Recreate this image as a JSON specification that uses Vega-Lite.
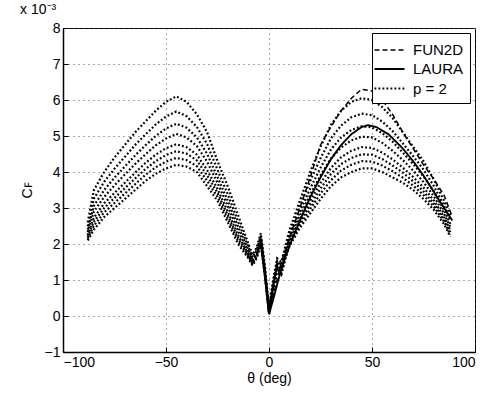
{
  "$schema": "https://vega.github.io/schema/vega-lite/v6.json",
  "width": 412,
  "height": 324,
  "autosize": "none",
  "padding": {"left": 63, "top": 28, "right": 15, "bottom": 42},
  "background": "white",
  "config": {
    "font": "Liberation Sans",
    "view": {"stroke": "black", "strokeWidth": 1},
    "axis": {
      "grid": true,
      "gridDash": [1, 4],
      "gridColor": "#555",
      "gridOpacity": 1,
      "domainColor": "black",
      "domainWidth": 1.5,
      "tickColor": "black",
      "tickSize": -5,
      "labelColor": "black",
      "labelFontSize": 14,
      "labelOverlap": false,
      "labelBound": false,
      "titleFontSize": 14,
      "titleFontWeight": "normal",
      "titleColor": "black"
    },
    "legend": {
      "orient": "top-right",
      "offset": 5,
      "strokeColor": "black",
      "fillColor": "white",
      "padding": 6,
      "labelFontSize": 15,
      "labelColor": "black",
      "labelOffset": 12,
      "symbolType": "M-1.5,0L1.5,0",
      "symbolSize": 400,
      "symbolStrokeColor": "black",
      "rowPadding": 0
    }
  },
  "title": {"text": "x 10⁻³", "anchor": "start", "fontSize": 14, "fontWeight": "normal", "offset": 4, "color": "black"},
  "encoding": {
    "x": {
      "field": "theta", "type": "quantitative",
      "scale": {"domain": [-100, 100], "nice": false},
      "axis": {"values": [-100, -50, 0, 50, 100], "title": "θ (deg)", "labelPadding": 8, "titlePadding": 2}
    },
    "y": {
      "field": "cf", "type": "quantitative",
      "scale": {"domain": [-1, 8], "nice": false},
      "axis": {"values": [-1, 0, 1, 2, 3, 4, 5, 6, 7, 8], "tickCount": 10, "title": "Cꜰ", "labelPadding": 8, "titlePadding": 10}
    },
    "strokeDash": {
      "field": "method", "type": "nominal",
      "scale": {"domain": ["FUN2D", "LAURA", "p = 2"], "range": [[5, 3], [1, 0], [1.8, 2.2]]},
      "legend": {"title": null}
    },
    "strokeWidth": {
      "field": "method", "type": "nominal",
      "scale": {"domain": ["FUN2D", "LAURA", "p = 2"], "range": [1.5, 2.2, 2.2]},
      "legend": {"title": null}
    }
  },
  "layer": [
    {
      "data": {"values": [
        {"theta": -88, "method": "p = 2", "c1": 2.10, "c2": 2.15, "c3": 2.20, "c4": 2.25, "c5": 2.33, "c6": 2.40, "c7": 2.49, "c8": 2.60},
        {"theta": -85, "method": "p = 2", "c1": 2.40, "c2": 2.51, "c3": 2.62, "c4": 2.73, "c5": 2.90, "c6": 3.06, "c7": 3.26, "c8": 3.50},
        {"theta": -80, "method": "p = 2", "c1": 2.75, "c2": 2.88, "c3": 3.00, "c4": 3.13, "c5": 3.31, "c6": 3.50, "c7": 3.73, "c8": 4.00},
        {"theta": -75, "method": "p = 2", "c1": 3.00, "c2": 3.14, "c3": 3.28, "c4": 3.42, "c5": 3.63, "c6": 3.84, "c7": 4.09, "c8": 4.40},
        {"theta": -70, "method": "p = 2", "c1": 3.25, "c2": 3.40, "c3": 3.55, "c4": 3.70, "c5": 3.93, "c6": 4.15, "c7": 4.42, "c8": 4.75},
        {"theta": -65, "method": "p = 2", "c1": 3.50, "c2": 3.66, "c3": 3.82, "c4": 3.98, "c5": 4.22, "c6": 4.46, "c7": 4.75, "c8": 5.10},
        {"theta": -60, "method": "p = 2", "c1": 3.75, "c2": 3.92, "c3": 4.08, "c4": 4.25, "c5": 4.49, "c6": 4.74, "c7": 5.04, "c8": 5.40},
        {"theta": -55, "method": "p = 2", "c1": 3.95, "c2": 4.13, "c3": 4.30, "c4": 4.48, "c5": 4.74, "c6": 5.00, "c7": 5.32, "c8": 5.70},
        {"theta": -50, "method": "p = 2", "c1": 4.10, "c2": 4.29, "c3": 4.47, "c4": 4.66, "c5": 4.93, "c6": 5.21, "c7": 5.54, "c8": 5.95},
        {"theta": -45, "method": "p = 2", "c1": 4.20, "c2": 4.39, "c3": 4.58, "c4": 4.77, "c5": 5.06, "c6": 5.34, "c7": 5.68, "c8": 6.10},
        {"theta": -40, "method": "p = 2", "c1": 4.15, "c2": 4.33, "c3": 4.51, "c4": 4.69, "c5": 4.96, "c6": 5.23, "c7": 5.55, "c8": 5.95},
        {"theta": -35, "method": "p = 2", "c1": 4.00, "c2": 4.16, "c3": 4.32, "c4": 4.48, "c5": 4.72, "c6": 4.96, "c7": 5.25, "c8": 5.60},
        {"theta": -30, "method": "p = 2", "c1": 3.60, "c2": 3.75, "c3": 3.90, "c4": 4.05, "c5": 4.28, "c6": 4.50, "c7": 4.77, "c8": 5.10},
        {"theta": -25, "method": "p = 2", "c1": 3.20, "c2": 3.31, "c3": 3.42, "c4": 3.53, "c5": 3.70, "c6": 3.86, "c7": 4.06, "c8": 4.30},
        {"theta": -20, "method": "p = 2", "c1": 2.60, "c2": 2.70, "c3": 2.80, "c4": 2.90, "c5": 3.05, "c6": 3.20, "c7": 3.38, "c8": 3.60},
        {"theta": -15, "method": "p = 2", "c1": 2.00, "c2": 2.08, "c3": 2.16, "c4": 2.24, "c5": 2.36, "c6": 2.48, "c7": 2.62, "c8": 2.80},
        {"theta": -10, "method": "p = 2", "c1": 1.60, "c2": 1.64, "c3": 1.68, "c4": 1.72, "c5": 1.78, "c6": 1.84, "c7": 1.91, "c8": 2.00},
        {"theta": -8, "method": "p = 2", "c1": 1.40, "c2": 1.43, "c3": 1.46, "c4": 1.49, "c5": 1.54, "c6": 1.58, "c7": 1.63, "c8": 1.70},
        {"theta": -6, "method": "p = 2", "c1": 1.60, "c2": 1.63, "c3": 1.66, "c4": 1.69, "c5": 1.74, "c6": 1.78, "c7": 1.83, "c8": 1.90},
        {"theta": -4, "method": "p = 2", "c1": 2.00, "c2": 2.03, "c3": 2.06, "c4": 2.09, "c5": 2.14, "c6": 2.18, "c7": 2.23, "c8": 2.30},
        {"theta": -2, "method": "p = 2", "c1": 1.10, "c2": 1.13, "c3": 1.16, "c4": 1.19, "c5": 1.24, "c6": 1.28, "c7": 1.33, "c8": 1.40},
        {"theta": 0, "method": "p = 2", "c1": 0.05, "c2": 0.07, "c3": 0.08, "c4": 0.10, "c5": 0.12, "c6": 0.14, "c7": 0.17, "c8": 0.20},
        {"theta": 2, "method": "p = 2", "c1": 0.70, "c2": 0.73, "c3": 0.76, "c4": 0.79, "c5": 0.84, "c6": 0.88, "c7": 0.93, "c8": 1.00},
        {"theta": 4, "method": "p = 2", "c1": 1.30, "c2": 1.33, "c3": 1.36, "c4": 1.39, "c5": 1.44, "c6": 1.48, "c7": 1.53, "c8": 1.60},
        {"theta": 6, "method": "p = 2", "c1": 1.15, "c2": 1.19, "c3": 1.22, "c4": 1.26, "c5": 1.31, "c6": 1.36, "c7": 1.42, "c8": 1.50},
        {"theta": 8, "method": "p = 2", "c1": 1.60, "c2": 1.64, "c3": 1.67, "c4": 1.71, "c5": 1.76, "c6": 1.81, "c7": 1.87, "c8": 1.95},
        {"theta": 10, "method": "p = 2", "c1": 1.95, "c2": 2.00, "c3": 2.04, "c4": 2.09, "c5": 2.15, "c6": 2.22, "c7": 2.30, "c8": 2.40},
        {"theta": 15, "method": "p = 2", "c1": 2.45, "c2": 2.53, "c3": 2.60, "c4": 2.68, "c5": 2.79, "c6": 2.90, "c7": 3.04, "c8": 3.20},
        {"theta": 20, "method": "p = 2", "c1": 2.85, "c2": 2.97, "c3": 3.08, "c4": 3.20, "c5": 3.37, "c6": 3.54, "c7": 3.75, "c8": 4.00},
        {"theta": 25, "method": "p = 2", "c1": 3.25, "c2": 3.40, "c3": 3.54, "c4": 3.69, "c5": 3.90, "c6": 4.12, "c7": 4.38, "c8": 4.70},
        {"theta": 30, "method": "p = 2", "c1": 3.60, "c2": 3.77, "c3": 3.94, "c4": 4.11, "c5": 4.37, "c6": 4.62, "c7": 4.93, "c8": 5.30},
        {"theta": 35, "method": "p = 2", "c1": 3.85, "c2": 4.04, "c3": 4.22, "c4": 4.41, "c5": 4.68, "c6": 4.96, "c7": 5.29, "c8": 5.70},
        {"theta": 40, "method": "p = 2", "c1": 4.00, "c2": 4.20, "c3": 4.39, "c4": 4.59, "c5": 4.88, "c6": 5.17, "c7": 5.52, "c8": 5.95},
        {"theta": 45, "method": "p = 2", "c1": 4.10, "c2": 4.30, "c3": 4.49, "c4": 4.69, "c5": 4.98, "c6": 5.27, "c7": 5.62, "c8": 6.05},
        {"theta": 50, "method": "p = 2", "c1": 4.10, "c2": 4.29, "c3": 4.48, "c4": 4.67, "c5": 4.96, "c6": 5.24, "c7": 5.58, "c8": 6.00},
        {"theta": 55, "method": "p = 2", "c1": 4.00, "c2": 4.18, "c3": 4.36, "c4": 4.54, "c5": 4.81, "c6": 5.08, "c7": 5.40, "c8": 5.80},
        {"theta": 60, "method": "p = 2", "c1": 3.85, "c2": 4.02, "c3": 4.18, "c4": 4.35, "c5": 4.59, "c6": 4.84, "c7": 5.14, "c8": 5.50},
        {"theta": 65, "method": "p = 2", "c1": 3.70, "c2": 3.84, "c3": 3.98, "c4": 4.12, "c5": 4.33, "c6": 4.54, "c7": 4.79, "c8": 5.10},
        {"theta": 70, "method": "p = 2", "c1": 3.50, "c2": 3.62, "c3": 3.74, "c4": 3.86, "c5": 4.04, "c6": 4.22, "c7": 4.44, "c8": 4.70},
        {"theta": 75, "method": "p = 2", "c1": 3.25, "c2": 3.36, "c3": 3.46, "c4": 3.57, "c5": 3.72, "c6": 3.88, "c7": 4.07, "c8": 4.30},
        {"theta": 80, "method": "p = 2", "c1": 2.95, "c2": 3.04, "c3": 3.12, "c4": 3.21, "c5": 3.33, "c6": 3.46, "c7": 3.61, "c8": 3.80},
        {"theta": 85, "method": "p = 2", "c1": 2.55, "c2": 2.62, "c3": 2.68, "c4": 2.75, "c5": 2.84, "c6": 2.94, "c7": 3.06, "c8": 3.20},
        {"theta": 88, "method": "p = 2", "c1": 2.20, "c2": 2.26, "c3": 2.32, "c4": 2.38, "c5": 2.47, "c6": 2.56, "c7": 2.67, "c8": 2.80}
      ]},
      "transform": [{"fold": ["c1", "c2", "c3", "c4", "c5", "c6", "c7", "c8"], "as": ["curve", "cf"]}],
      "mark": {"type": "line", "color": "black"},
      "encoding": {
        "detail": {"field": "curve"}
      }
    },
    {
      "data": {"values": [
        {"theta": 0, "cf": 0.05, "method": "FUN2D"},
        {"theta": 3, "cf": 0.8, "method": "FUN2D"},
        {"theta": 6, "cf": 1.5, "method": "FUN2D"},
        {"theta": 10, "cf": 2.2, "method": "FUN2D"},
        {"theta": 15, "cf": 3.0, "method": "FUN2D"},
        {"theta": 20, "cf": 3.85, "method": "FUN2D"},
        {"theta": 25, "cf": 4.75, "method": "FUN2D"},
        {"theta": 30, "cf": 5.25, "method": "FUN2D"},
        {"theta": 35, "cf": 5.7, "method": "FUN2D"},
        {"theta": 40, "cf": 6.05, "method": "FUN2D"},
        {"theta": 45, "cf": 6.3, "method": "FUN2D"},
        {"theta": 50, "cf": 6.25, "method": "FUN2D"},
        {"theta": 55, "cf": 6.0, "method": "FUN2D"},
        {"theta": 60, "cf": 5.6, "method": "FUN2D"},
        {"theta": 65, "cf": 5.1, "method": "FUN2D"},
        {"theta": 70, "cf": 4.65, "method": "FUN2D"},
        {"theta": 75, "cf": 4.2, "method": "FUN2D"},
        {"theta": 80, "cf": 3.8, "method": "FUN2D"},
        {"theta": 85, "cf": 3.35, "method": "FUN2D"},
        {"theta": 89, "cf": 2.75, "method": "FUN2D"},
        {"theta": 0, "cf": 0.05, "method": "LAURA"},
        {"theta": 2, "cf": 0.45, "method": "LAURA"},
        {"theta": 5, "cf": 1.1, "method": "LAURA"},
        {"theta": 8, "cf": 1.65, "method": "LAURA"},
        {"theta": 11, "cf": 2.1, "method": "LAURA"},
        {"theta": 15, "cf": 2.65, "method": "LAURA"},
        {"theta": 20, "cf": 3.3, "method": "LAURA"},
        {"theta": 25, "cf": 3.85, "method": "LAURA"},
        {"theta": 30, "cf": 4.35, "method": "LAURA"},
        {"theta": 35, "cf": 4.75, "method": "LAURA"},
        {"theta": 40, "cf": 5.05, "method": "LAURA"},
        {"theta": 45, "cf": 5.25, "method": "LAURA"},
        {"theta": 48, "cf": 5.3, "method": "LAURA"},
        {"theta": 52, "cf": 5.25, "method": "LAURA"},
        {"theta": 58, "cf": 5.05, "method": "LAURA"},
        {"theta": 65, "cf": 4.65, "method": "LAURA"},
        {"theta": 70, "cf": 4.3, "method": "LAURA"},
        {"theta": 75, "cf": 3.9, "method": "LAURA"},
        {"theta": 80, "cf": 3.45, "method": "LAURA"},
        {"theta": 85, "cf": 3.0, "method": "LAURA"},
        {"theta": 89, "cf": 2.65, "method": "LAURA"}
      ]},
      "mark": {"type": "line", "color": "black"}
    }
  ]
}
